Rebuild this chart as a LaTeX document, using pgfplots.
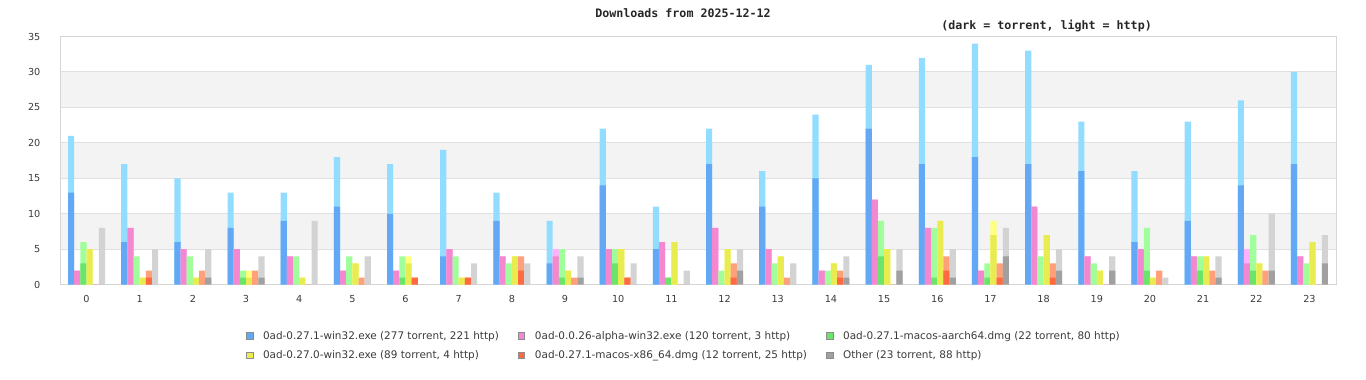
\documentclass[border=0pt]{standalone}
\usepackage{fontspec}
\setmainfont{DejaVu Sans}
\newfontfamily\titlefont{DejaVu Sans Mono Bold}
\usepackage{pgfplots}
\pgfplotsset{compat=1.18}
\usepackage{pgfplotstable}
\definecolor{blueD}{HTML}{62A8F5}
\definecolor{blueL}{HTML}{92DCFF}
\definecolor{pinkD}{HTML}{F488D0}
\definecolor{pinkL}{HTML}{FFB0FF}
\definecolor{greenD}{HTML}{6AE46A}
\definecolor{greenL}{HTML}{A0FF9A}
\definecolor{yellowD}{HTML}{E8EC50}
\definecolor{yellowL}{HTML}{FFFF80}
\definecolor{orangeD}{HTML}{FF6A40}
\definecolor{orangeL}{HTML}{FFA07A}
\definecolor{greyD}{HTML}{A0A0A0}
\definecolor{greyL}{HTML}{D3D3D3}
\definecolor{gridc}{HTML}{E0E0E0}
\definecolor{bandc}{HTML}{F3F3F3}
\definecolor{framec}{HTML}{D6D6D6}
\definecolor{labc}{HTML}{3A3A3A}

% hour, torrent, http
\pgfplotstableread{
x t h
0 13 8
1 6 11
2 6 9
3 8 5
4 9 4
5 11 7
6 10 7
7 4 15
8 9 4
9 3 6
10 14 8
11 5 6
12 17 5
13 11 5
14 15 9
15 22 9
16 17 15
17 18 16
18 17 16
19 16 7
20 6 10
21 9 14
22 14 12
23 17 13
}\tblue
\pgfplotstableread{
x t h
0 2 0
1 8 0
2 5 0
3 5 0
4 4 0
5 2 0
6 2 0
7 5 0
8 4 0
9 4 1
10 5 0
11 6 0
12 8 0
13 5 0
14 2 0
15 12 0
16 8 0
17 2 0
18 11 0
19 4 0
20 5 0
21 4 0
22 3 2
23 4 0
}\tpink
\pgfplotstableread{
x t h
0 3 3
1 0 4
2 0 4
3 1 1
4 0 4
5 0 4
6 1 3
7 0 4
8 0 3
9 1 4
10 3 2
11 1 0
12 0 2
13 0 3
14 0 2
15 4 5
16 1 7
17 1 2
18 0 4
19 0 3
20 2 6
21 2 2
22 2 5
23 0 3
}\tgreen
\pgfplotstableread{
x t h
0 5 0
1 1 0
2 1 0
3 1 1
4 1 0
5 3 0
6 3 1
7 1 0
8 4 0
9 2 0
10 5 0
11 6 0
12 5 0
13 4 0
14 3 0
15 5 0
16 9 0
17 7 2
18 7 0
19 2 0
20 1 0
21 4 0
22 3 0
23 6 0
}\tyellow
\pgfplotstableread{
x t h
0 0 0
1 1 1
2 0 2
3 0 2
4 0 0
5 0 1
6 1 0
7 1 0
8 2 2
9 0 1
10 1 0
11 0 0
12 1 2
13 0 1
14 1 1
15 0 0
16 2 2
17 1 2
18 1 2
19 0 0
20 0 2
21 0 2
22 0 2
23 0 0
}\torange
\pgfplotstableread{
x t h
0 0 8
1 0 5
2 1 4
3 1 3
4 0 9
5 0 4
6 0 0
7 0 3
8 0 3
9 1 3
10 0 3
11 0 2
12 2 3
13 0 3
14 1 3
15 2 3
16 1 4
17 4 4
18 2 3
19 2 2
20 0 1
21 1 3
22 2 8
23 3 4
}\tother

\newcommand\bars[5]{%
  \addplot[ybar, bar width=0.116, bar shift=#2, fill=#3, draw=none, forget plot]
    table[x=x, y expr=\thisrow{t}+\thisrow{h}] {#1};
  \addplot[ybar, bar width=0.116, bar shift=#2, fill=#4, draw=none]
    table[x=x, y=t] {#1};
  \addlegendentry{#5}
}

\begin{document}
\begin{tikzpicture}
\begin{axis}[
  set layers,
  scale only axis,
  width=1275.5bp, height=248.2bp,
  xmin=-0.49, xmax=23.5, ymin=0, ymax=35,
  xtick={0,...,23}, ytick={0,5,...,35},
  ymajorgrids,
  grid style={draw=gridc, line width=1bp},
  axis line style={draw=framec, line width=1bp},
  major tick length=0pt,
  /pgf/number format/assume math mode=true,
  tick label style={font=\fontsize{9.7}{11}\selectfont, text=labc, inner sep=0pt},
  yticklabel style={anchor=east, xshift=-20bp},
  xticklabel style={anchor=base, yshift=-17.3bp},
  legend columns=3,
  legend cell align=left,
  legend style={at={(axis description cs:0.1452,-0.1785)}, anchor=north west,
    draw=none, fill=none, inner sep=0pt,
    font=\fontsize{10.5}{12}\selectfont, text=labc,
    /tikz/every odd column/.append style={column sep=8bp},
    /tikz/every even column/.append style={column sep=17bp}, row sep=6bp},
  legend image code/.code={\filldraw[#1, draw=black!45, line width=0.5bp] (0bp,-3.3bp) rectangle (6.6bp,3.3bp);},
]
\begin{pgfonlayer}{axis background}
  \fill[bandc] (axis cs:-0.49,5) rectangle (axis cs:23.5,10);
  \fill[bandc] (axis cs:-0.49,15) rectangle (axis cs:23.5,20);
  \fill[bandc] (axis cs:-0.49,25) rectangle (axis cs:23.5,30);
\end{pgfonlayer}
\bars{\tblue}{-0.29}{blueL}{blueD}{0ad-0.27.1-win32.exe (277 torrent, 221 http)}
\bars{\tpink}{-0.174}{pinkL}{pinkD}{0ad-0.0.26-alpha-win32.exe (120 torrent, 3 http)}
\bars{\tgreen}{-0.058}{greenL}{greenD}{0ad-0.27.1-macos-aarch64.dmg (22 torrent, 80 http)}
\bars{\tyellow}{0.058}{yellowL}{yellowD}{0ad-0.27.0-win32.exe (89 torrent, 4 http)}
\bars{\torange}{0.174}{orangeL}{orangeD}{0ad-0.27.1-macos-x86\_64.dmg (12 torrent, 25 http)}
\bars{\tother}{0.29}{greyL}{greyD}{Other (23 torrent, 88 http)}
\end{axis}
\node[font=\titlefont\fontsize{11.7}{13}\selectfont, text=black!85, inner sep=0pt] at (622.5bp,271.7bp) {Downloads from 2025-12-12};
\node[font=\titlefont\fontsize{11.7}{13}\selectfont, text=black!85, inner sep=0pt, anchor=east] at (1091.5bp,258.7bp) {(dark = torrent, light = http)};
\pgfresetboundingbox
\path (-60.5bp,-95.3bp) rectangle (1305.5bp,284.7bp);
\end{tikzpicture}
\end{document}
